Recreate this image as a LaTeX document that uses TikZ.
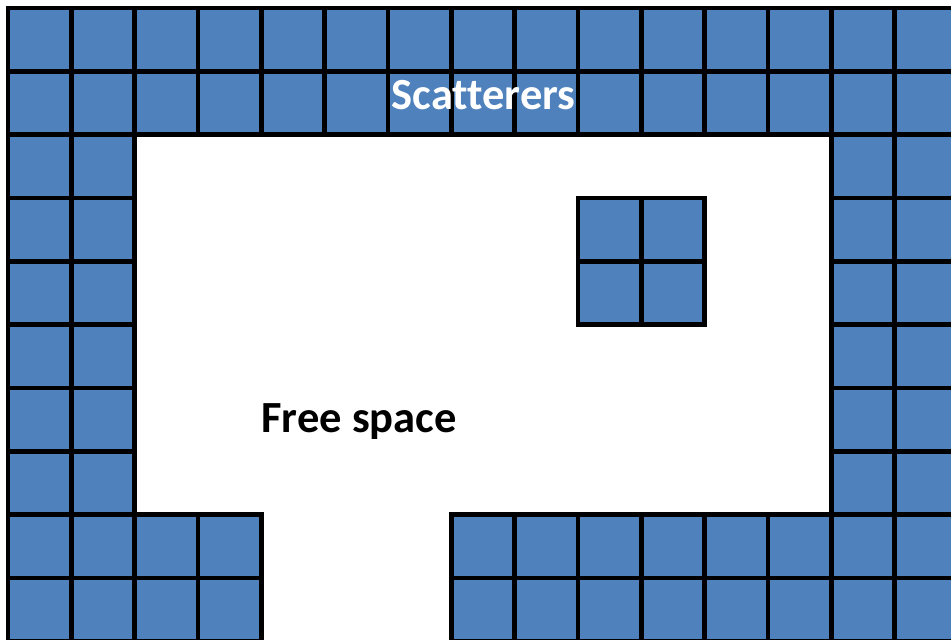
\documentclass[tikz,border=0pt]{standalone}
\usepackage{fontspec}
\setsansfont[Ligatures=NoCommon]{Carlito}
\definecolor{cellblue}{HTML}{4F81BD}

\begin{document}
\begin{tikzpicture}[x=1cm, y=1cm,
    cell/.style={fill=cellblue, draw=black, line width=2pt},
    label/.style={font=\sffamily\bfseries\fontsize{20}{24}\selectfont, anchor=base}]
  % frame of the picture (cells cut off at right and bottom)
  \useasboundingbox (-0.126,0.035) rectangle (14.89,10.126);
  \clip (-0.126,0.035) rectangle (14.89,10.126);

  % top two rows
  \foreach \y in {8,9} {
    \foreach \x in {0,...,14} {
      \draw[cell] (\x,\y) rectangle ++(1,1);
    }
  }

  % side walls
  \foreach \y in {2,...,7} {
    \foreach \x in {0,1,13,14} {
      \draw[cell] (\x,\y) rectangle ++(1,1);
    }
  }

  % bottom rows, with the opening
  \foreach \y in {0,1} {
    \foreach \x in {0,...,3} {
      \draw[cell] (\x,\y) rectangle ++(1,1);
    }
    \foreach \x in {7,...,14} {
      \draw[cell] (\x,\y) rectangle ++(1,1);
    }
  }

  % small block inside
  \foreach \x in {9,10} {
    \foreach \y in {5,6} {
      \draw[cell] (\x,\y) rectangle ++(1,1);
    }
  }

  % labels
  \node[label, text=white] (scat) at (7.51,8.40) {Scatterers};
  \node[label] (free) at (5.545,3.30) {Free space};
\end{tikzpicture}
\end{document}
